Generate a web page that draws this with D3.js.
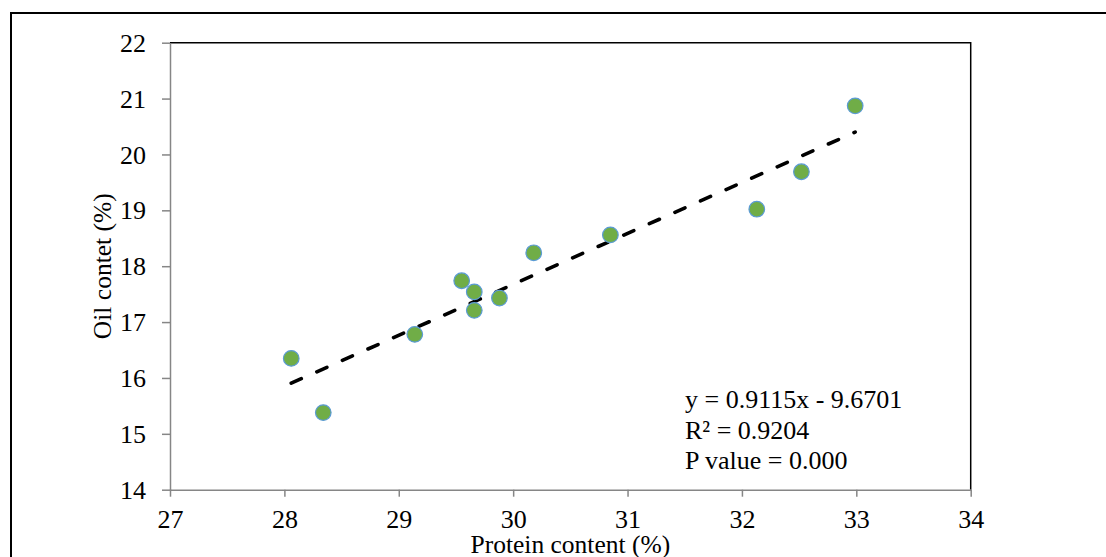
<!DOCTYPE html>
<meta charset="utf-8">
<head>
    <title>Protein vs oil content</title>
    <script src="https://d3js.org/d3.v7.min.js"></script>
    <style>
        body { margin: 0; background: #fff; }
        svg { display: block; }
        text {
            font-family: 'Liberation Serif', 'Times New Roman', serif;
            font-size: 26px;
            fill: #000;
        }
        text.title { font-size: 25.5px; }
        .axis path, .axis line { stroke: #868686; stroke-width: 1.5; }
        .frame { stroke: #000; stroke-width: 1.5; fill: none; }
        .dot { fill: #70AD47; stroke: #5B9BD5; stroke-width: 1.2; }
        #trend { stroke: #000; stroke-width: 3.6; stroke-dasharray: 11 17; stroke-linecap: round; fill: none; }
    </style>
</head>
<body>
<svg width="1106" height="557"></svg>
<script>
    // values
    const protein = [28.06, 28.34, 29.14, 29.55, 29.66, 29.66, 29.88, 30.18, 30.85, 32.13, 32.52, 32.99];
    const oil = [16.35, 15.38, 16.78, 17.74, 17.54, 17.21, 17.43, 18.24, 18.56, 19.02, 19.69, 20.87];
    const xTicks = [27, 28, 29, 30, 31, 32, 33, 34];
    const yTicks = [14, 15, 16, 17, 18, 19, 20, 21, 22];
    const slope = 0.9115;
    const intercept = -9.6701;
    const statLines = ['y = 0.9115x - 9.6701', 'R\u00b2 = 0.9204', 'P value = 0.000'];

    const svg = d3.select('svg');

    // outer border (runs off the right and bottom edges)
    svg.append('rect')
        .attr('x', 11).attr('y', 13)
        .attr('width', 1120).attr('height', 580)
        .attr('fill', 'none').attr('stroke', '#000').attr('stroke-width', 2);

    const pLeft = 170, pRight = 970.7, pTop = 42.7, pBottom = 489.7;

    const x = d3.scaleLinear().domain([27, 34]).range([pLeft, pRight]);
    const y = d3.scaleLinear().domain([14, 22]).range([pBottom, pTop]);

    // top and right edges of the plot area
    svg.append('path')
        .attr('class', 'frame')
        .attr('d', `M${pLeft},${pTop}H${pRight}V${pBottom}`);

    const xAxis = svg.append('g')
        .attr('class', 'axis')
        .attr('transform', `translate(0,${pBottom})`)
        .call(d3.axisBottom(x).tickValues(xTicks).tickFormat(d3.format('d')).tickSize(7).tickSizeOuter(0));
    xAxis.selectAll('text').attr('dy', null).attr('y', 38);

    const yAxis = svg.append('g')
        .attr('class', 'axis')
        .attr('transform', `translate(${pLeft},0)`)
        .call(d3.axisLeft(y).tickValues(yTicks).tickFormat(d3.format('d')).tickSize(8).tickSizeOuter(0));
    yAxis.selectAll('text').attr('x', -24).attr('dy', '0.33em');
    svg.selectAll('.axis').attr('font-size', null).attr('font-family', null);

    // trend line from the fitted equation, across the data range
    const xr = d3.extent(protein);
    svg.append('line')
        .attr('id', 'trend')
        .attr('x1', x(xr[0])).attr('y1', y(slope * xr[0] + intercept))
        .attr('x2', x(xr[1])).attr('y2', y(slope * xr[1] + intercept));

    svg.append('g').selectAll('circle')
        .data(protein)
        .join('circle')
        .attr('class', 'dot')
        .attr('cx', d => x(d))
        .attr('cy', (d, i) => y(oil[i]))
        .attr('r', 7.8);

    svg.append('g').selectAll('text')
        .data(statLines)
        .join('text')
        .attr('x', 685)
        .attr('y', (d, i) => 408 + i * 30.5)
        .text(d => d);

    svg.append('text')
        .attr('class', 'title')
        .attr('x', (pLeft + pRight) / 2)
        .attr('y', 552.5)
        .attr('text-anchor', 'middle')
        .text('Protein content (%)');

    svg.append('text')
        .attr('class', 'title')
        .attr('transform', `translate(111,${(pTop + pBottom) / 2}) rotate(-90)`)
        .attr('text-anchor', 'middle')
        .text('Oil contet (%)');
</script>
</body>
